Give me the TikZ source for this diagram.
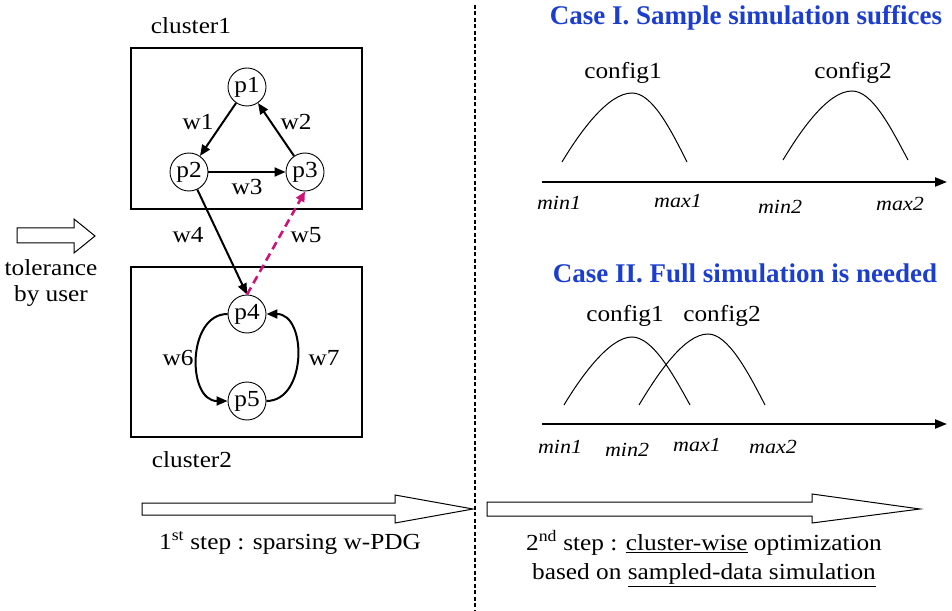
\documentclass[tikz,border=0pt]{standalone}
\usepackage{fontspec}
\setmainfont{Liberation Serif}[FakeStretch=1.1]
\newfontfamily\headfont{Liberation Serif}
\usetikzlibrary{arrows.meta}
\definecolor{headblue}{RGB}{28,62,206}
\definecolor{cutpink}{RGB}{206,18,120}
\begin{document}
\begin{tikzpicture}[x=1bp,y=-1bp,
  lbl/.style={font=\fontsize{23bp}{27bp}\selectfont, inner sep=0pt},
  axlbl/.style={font=\fontsize{20bp}{23bp}\selectfont\itshape, inner sep=0pt},
  head/.style={font=\headfont\fontsize{27bp}{31bp}\selectfont\bfseries, text=headblue, inner sep=0pt},
  proc/.style={draw, circle, line width=0.9bp, minimum size=38bp, inner sep=0pt,
    font=\fontsize{23bp}{27bp}\selectfont},
  cluster/.style={draw, line width=1.2bp},
  edge/.style={line width=2bp, -{Triangle[length=11bp,width=9bp]}},
  cutedge/.style={line width=2.6bp, draw=cutpink, dash pattern=on 8bp off 5bp,
    -{Triangle[length=10bp,width=9bp]}},
  bump/.style={line width=1bp},
  axis/.style={line width=2.2bp, -{Triangle[length=12bp,width=9bp]}},
  blockarrow/.style={draw, line width=1bp, fill=white},
]
\useasboundingbox (0,0) rectangle (952,611);

% ---- clusters ----
\draw[cluster] (131,48) rectangle (362,209);
\draw[cluster] (131,267) rectangle (362,437);
\node[lbl] (c1lbl) at (191,26) {cluster1};
\node[lbl] (c2lbl) at (192,460) {cluster2};

% ---- processes ----
\node[proc] (p1) at (247,87) {p1};
\node[proc] (p2) at (189,172) {p2};
\node[proc] (p3) at (305,172) {p3};
\node[proc] (p4) at (247,314) {p4};
\node[proc] (p5) at (247,401) {p5};

% ---- weighted edges ----
\draw[edge] (p1) -- (p2);
\draw[edge] (p3) -- (p1);
\draw[edge] (p2) -- (p3);
\draw[edge] (p2) -- (p4.north);
\draw[cutedge] (p4.north) -- (p3.south);
\draw[edge] (p4.west) to[out=180,in=180,looseness=1.2] (p5.west);
\draw[edge] (p5.east) to[out=0,in=0,looseness=1.2] (p4.east);

\node[lbl] (w1) at (198,122) {w1};
\node[lbl] (w2) at (296,122) {w2};
\node[lbl] (w3) at (247,187) {w3};
\node[lbl] (w4) at (188,235) {w4};
\node[lbl] (w5) at (306,235) {w5};
\node[lbl] (w6) at (178,358) {w6};
\node[lbl] (w7) at (324,358) {w7};

% ---- tolerance input ----
\draw[blockarrow] (17,228) -- (74,228) -- (74,219) -- (95,236) -- (74,253)
  -- (74,243) -- (17,243) -- cycle;
\node[lbl] (tol1) at (51,268) {tolerance};
\node[lbl] (tol2) at (51,296) {by user};

% ---- separator ----
\draw[line width=1.5bp, dash pattern=on 4bp off 2.5bp] (475,5) -- (475,611);

% ---- step arrows ----
\draw[blockarrow] (142,503) -- (395,503) -- (395,495) -- (473,509) -- (395,523)
  -- (395,515) -- (142,515) -- cycle;
\draw[blockarrow] (487,502) -- (812,502) -- (812,494) -- (920,509) -- (812,523)
  -- (812,516) -- (487,516) -- cycle;
\node[lbl] (step1) at (290,543) {1\textsuperscript{st} step : sparsing w-PDG};
\node[lbl] (step2a) at (704,543) {2\textsuperscript{nd} step : \underline{cluster-wise} optimization};
\node[lbl] (step2b) at (704,575) {based on \underline{sampled-data simulation}};

% ---- Case I ----
\node[head] (caseI) at (746,18) {Case I. Sample simulation suffices};
\draw[axis] (542,182) -- (947,182);
\draw[bump] (562,162) .. controls (580,132) and (608,93) .. (632,93)
  .. controls (652,93) and (670,128) .. (687,162);
\draw[bump] (783,160) .. controls (801,130) and (828,91) .. (852,91)
  .. controls (872,91) and (890,126) .. (908,160);
\node[lbl] (cfgA1) at (623,73) {config1};
\node[lbl] (cfgA2) at (853,73) {config2};
\node[axlbl] (a1) at (559,203) {min1};
\node[axlbl] (a2) at (678,201) {max1};
\node[axlbl] (a3) at (780,207) {min2};
\node[axlbl] (a4) at (900,204) {max2};

% ---- Case II ----
\node[head] (caseII) at (745,273) {Case II. Full simulation is needed};
\draw[axis] (542,424) -- (947,424);
\draw[bump] (564,405) .. controls (582,375) and (610,337) .. (632,337)
  .. controls (652,337) and (672,372) .. (690,405);
\draw[bump] (639,405) .. controls (657,375) and (684,334) .. (708,334)
  .. controls (728,334) and (748,372) .. (765,405);
\node[lbl] (cfgB1) at (625,316) {config1};
\node[lbl] (cfgB2) at (722,316) {config2};
\node[axlbl] (b1) at (560,447) {min1};
\node[axlbl] (b2) at (627,450) {min2};
\node[axlbl] (b3) at (697,445) {max1};
\node[axlbl] (b4) at (773,447) {max2};
\end{tikzpicture}
\end{document}
